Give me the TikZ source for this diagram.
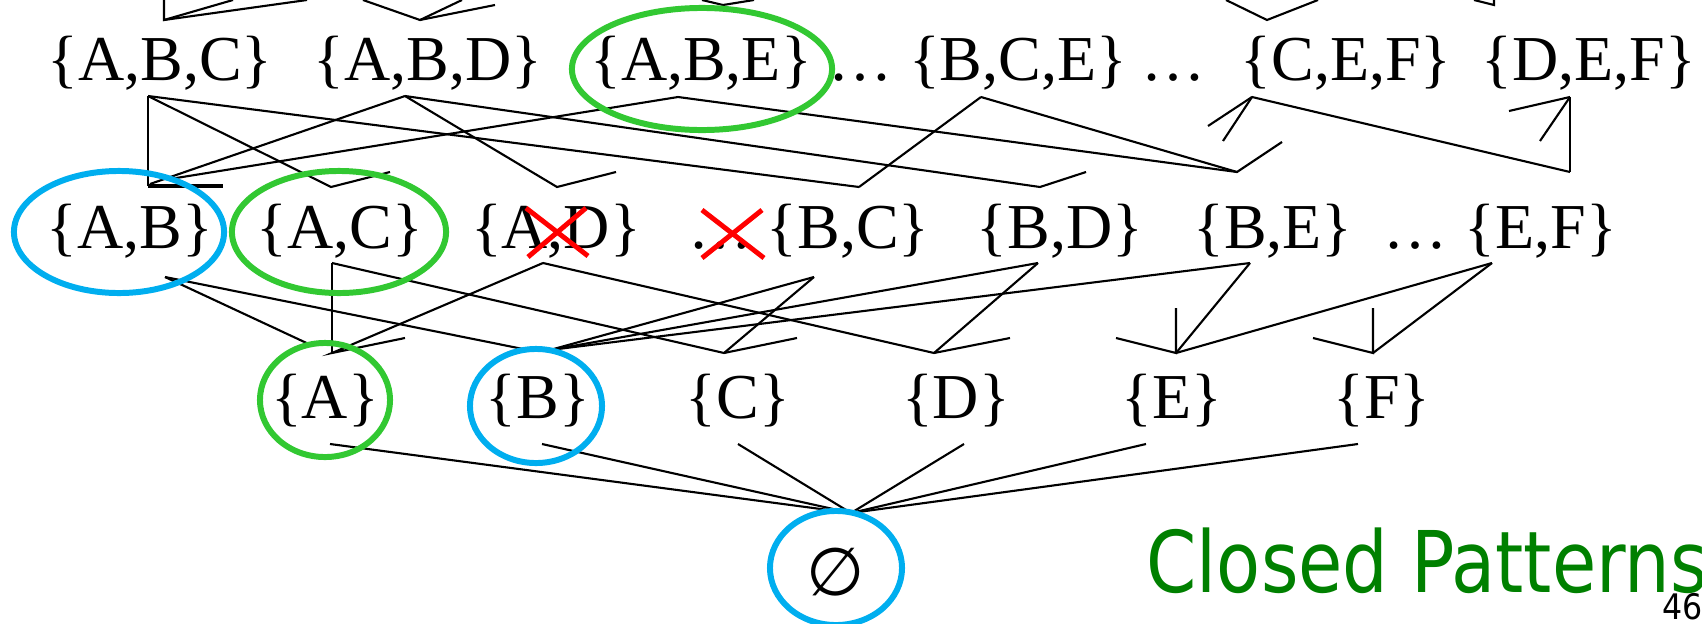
\documentclass[tikz,border=0pt]{standalone}
\usepackage{fontspec}
\setmainfont{Liberation Serif}
\newfontfamily\titlesans{DejaVu Sans}
\usetikzlibrary{shapes.geometric}
\definecolor{ringgreen}{RGB}{50,200,50}
\definecolor{ringblue}{RGB}{0,174,239}
\definecolor{titlegreen}{RGB}{0,128,0}
\tikzset{
  lbl/.style={anchor=base, inner sep=0pt, font=\fontsize{18.2}{22}\selectfont},
  edge/.style={line width=0.6pt, black},
  thickedge/.style={line width=1.1pt, black},
  ringG/.style={ellipse, draw=ringgreen, line width=1.7pt, inner sep=0pt},
  ringB/.style={ellipse, draw=ringblue, line width=1.7pt, inner sep=0pt},
  crossline/.style={draw=red, line width=1.4pt},
}
\begin{document}
\begin{tikzpicture}[x=0.01cm, y=-0.01cm]
\useasboundingbox (0,0) rectangle (1702,624);

% ---------- labels ----------
\node[lbl] (abc) at (160,80) {\{A,B,C\}};
\node[lbl] (abd) at (428,80) {\{A,B,D\}};
\node[lbl] (abe) at (701,80) {\{A,B,E\}};
\node[lbl] (dotsA) at (860,80) {…};
\node[lbl] (bce) at (1018,80) {\{B,C,E\}};
\node[lbl] (dotsB) at (1173,80) {…};
\node[lbl] (cef) at (1346,80) {\{C,E,F\}};
\node[lbl] (def) at (1589,80) {\{D,E,F\}};

\node[lbl] (ab) at (130,248) {\{A,B\}};
\node[lbl] (ac) at (340,248) {\{A,C\}};
\node[lbl] (ad) at (556,248) {\{A,D\}};
\node[lbl] (dotsC) at (720,248) {…};
\node[lbl] (bc) at (848,248) {\{B,C\}};
\node[lbl] (bd) at (1060,248) {\{B,D\}};
\node[lbl] (be) at (1273,248) {\{B,E\}};
\node[lbl] (dotsD) at (1415,248) {…};
\node[lbl] (ef) at (1541,248) {\{E,F\}};

\node[lbl] (a) at (325,418) {\{A\}};
\node[lbl] (b) at (538,418) {\{B\}};
\node[lbl] (c) at (738,418) {\{C\}};
\node[lbl] (d) at (956,418) {\{D\}};
\node[lbl] (e) at (1172,418) {\{E\}};
\node[lbl] (f) at (1382,418) {\{F\}};

\node[inner sep=0pt, font=\titlesans\fontsize{19}{22}\selectfont] (empty) at (836,572) {∅};

\node[anchor=base west, inner sep=0pt, text=titlegreen, font=\titlesans\fontsize{24.2}{28}\selectfont] (title) at (1146,592) {\scalebox{0.846}[1]{Closed Patterns}};
\node[anchor=base west, inner sep=0pt, font=\titlesans\fontsize{10}{12}\selectfont] (pageno) at (1662,619) {\scalebox{0.9}[1]{46}};

% ---------- coordinates ----------
% top fragments
\coordinate (t1) at (164,20);  \coordinate (t1a) at (164,0);  \coordinate (t1b) at (233,0);  \coordinate (t1c) at (307,0);
\coordinate (t2) at (420,20);  \coordinate (t2a) at (363,0);  \coordinate (t2b) at (462,0);  \coordinate (t2c) at (495,5);
\coordinate (t3) at (723,5);   \coordinate (t3a) at (702,0);  \coordinate (t3b) at (754,0);
\coordinate (t4) at (1267,20); \coordinate (t4a) at (1226,0); \coordinate (t4b) at (1318,0);
\coordinate (t5) at (1494,5);  \coordinate (t5a) at (1474,0); \coordinate (t5b) at (1494,0);
% row 3 bottoms
\coordinate (bABC) at (148,96);
\coordinate (bABD) at (405,96);
\coordinate (bABE) at (678,97);
\coordinate (bBCE) at (981,97);
\coordinate (bCEF) at (1252,97);
\coordinate (bDEF) at (1570,97);
% row 2 tops
\coordinate (jAB) at (148,186); \coordinate (jABh) at (223,186);
\coordinate (jAB1) at (150,184); \coordinate (jAB2) at (170,179);
\coordinate (jAC) at (331,187); \coordinate (sAC) at (390,172);
\coordinate (jAD) at (557,187); \coordinate (sAD) at (616,172);
\coordinate (jBC) at (859,187);
\coordinate (jBD) at (1040,187); \coordinate (sBD) at (1086,172);
\coordinate (jBE) at (1237,172); \coordinate (sBE) at (1282,142);
\coordinate (jEF) at (1570,172);
\coordinate (sCEF1) at (1208,126); \coordinate (sCEF2) at (1223,141);
\coordinate (sDEF1) at (1509,111); \coordinate (sDEF2) at (1540,141);
% row 2 bottoms
\coordinate (bAB) at (165,277);
\coordinate (bAC) at (332,263);
\coordinate (bAD) at (543,263);
\coordinate (bBC) at (814,277);
\coordinate (bBD) at (1038,263);
\coordinate (bBE) at (1250,263);
\coordinate (bEF) at (1492,263);
% row 1 tops
\coordinate (jA) at (332,353); \coordinate (jAx) at (313,346); \coordinate (sA) at (405,338);
\coordinate (jB) at (550,350); \coordinate (jBx) at (528,350);
\coordinate (jC) at (724,353); \coordinate (sC) at (797,338);
\coordinate (jD) at (934,353); \coordinate (sD) at (1010,338);
\coordinate (jE) at (1176,353); \coordinate (vE) at (1176,308); \coordinate (sE) at (1116,338);
\coordinate (jF) at (1373,353); \coordinate (vF) at (1373,308); \coordinate (sF) at (1313,338);
% row 1 bottoms
\coordinate (bA) at (330,444);
\coordinate (bB) at (542,444);
\coordinate (bC) at (738,444);
\coordinate (bD) at (964,444);
\coordinate (bE) at (1146,444);
\coordinate (bF) at (1358,444);
\coordinate (apex) at (851,513);

% ---------- connectors ----------
\draw[edge] (t1a) -- (t1) -- (t1b); \draw[edge] (t1) -- (t1c);
\draw[edge] (t2a) -- (t2) -- (t2b); \draw[edge] (t2) -- (t2c);
\draw[edge] (t3a) -- (t3) -- (t3b);
\draw[edge] (t4a) -- (t4) -- (t4b);
\draw[edge] (t5a) -- (t5) -- (t5b);

\draw[edge] (bABC) -- (jAB);
\draw[thickedge] (jAB) -- (jABh);
\draw[edge] (bABC) -- (jAC) -- (sAC);
\draw[edge] (bABC) -- (jBC);
\draw[edge] (bABD) -- (jAB1);
\draw[edge] (bABD) -- (jAD) -- (sAD);
\draw[edge] (bABD) -- (jBD) -- (sBD);
\draw[edge] (bABE) -- (jAB2);
\draw[edge] (bABE) -- (jBE) -- (sBE);
\draw[edge] (bBCE) -- (jBC);
\draw[edge] (bBCE) -- (jBE);
\draw[edge] (bCEF) -- (sCEF1);
\draw[edge] (bCEF) -- (sCEF2);
\draw[edge] (bCEF) -- (jEF);
\draw[edge] (bDEF) -- (jEF);
\draw[edge] (bDEF) -- (sDEF1);
\draw[edge] (bDEF) -- (sDEF2);

\draw[edge] (bAB) -- (jAx);
\draw[edge] (bAB) -- (jBx);
\draw[edge] (bAC) -- (jA);
\draw[edge] (bAC) -- (jC) -- (sC);
\draw[edge] (bAD) -- (jA) -- (sA);
\draw[edge] (bAD) -- (jD) -- (sD);
\draw[edge] (bBC) -- (jC);
\draw[edge] (bBC) -- (jB);
\draw[edge] (bBD) -- (jB);
\draw[edge] (bBD) -- (jD);
\draw[edge] (bBE) -- (jB);
\draw[edge] (bBE) -- (jE);
\draw[edge] (bEF) -- (jE);
\draw[edge] (bEF) -- (jF);
\draw[edge] (vE) -- (jE) -- (sE);
\draw[edge] (vF) -- (jF) -- (sF);

\foreach \s in {bA,bB,bC,bD,bE,bF} \draw[edge] (\s) -- (apex);

% ---------- rings ----------
\node[ringG, minimum width=2.60cm, minimum height=1.22cm] (ringABE) at (702,69) {};
\node[ringB, minimum width=2.10cm, minimum height=1.22cm] (ringAB) at (119,232) {};
\node[ringG, minimum width=2.14cm, minimum height=1.22cm] (ringAC) at (339,232) {};
\node[ringG, minimum width=1.30cm, minimum height=1.14cm] (ringA) at (325,400) {};
\node[ringB, minimum width=1.32cm, minimum height=1.14cm] (ringB) at (536,406) {};
\node[ringB, minimum width=1.32cm, minimum height=1.14cm] (ringE) at (836,568) {};

% ---------- red crosses ----------
\draw[crossline] (526,208) -- (588,256);
\draw[crossline] (586,208) -- (528,257);
\draw[crossline] (702,210) -- (764,258);
\draw[crossline] (762,210) -- (702,258);
\end{tikzpicture}
\end{document}
